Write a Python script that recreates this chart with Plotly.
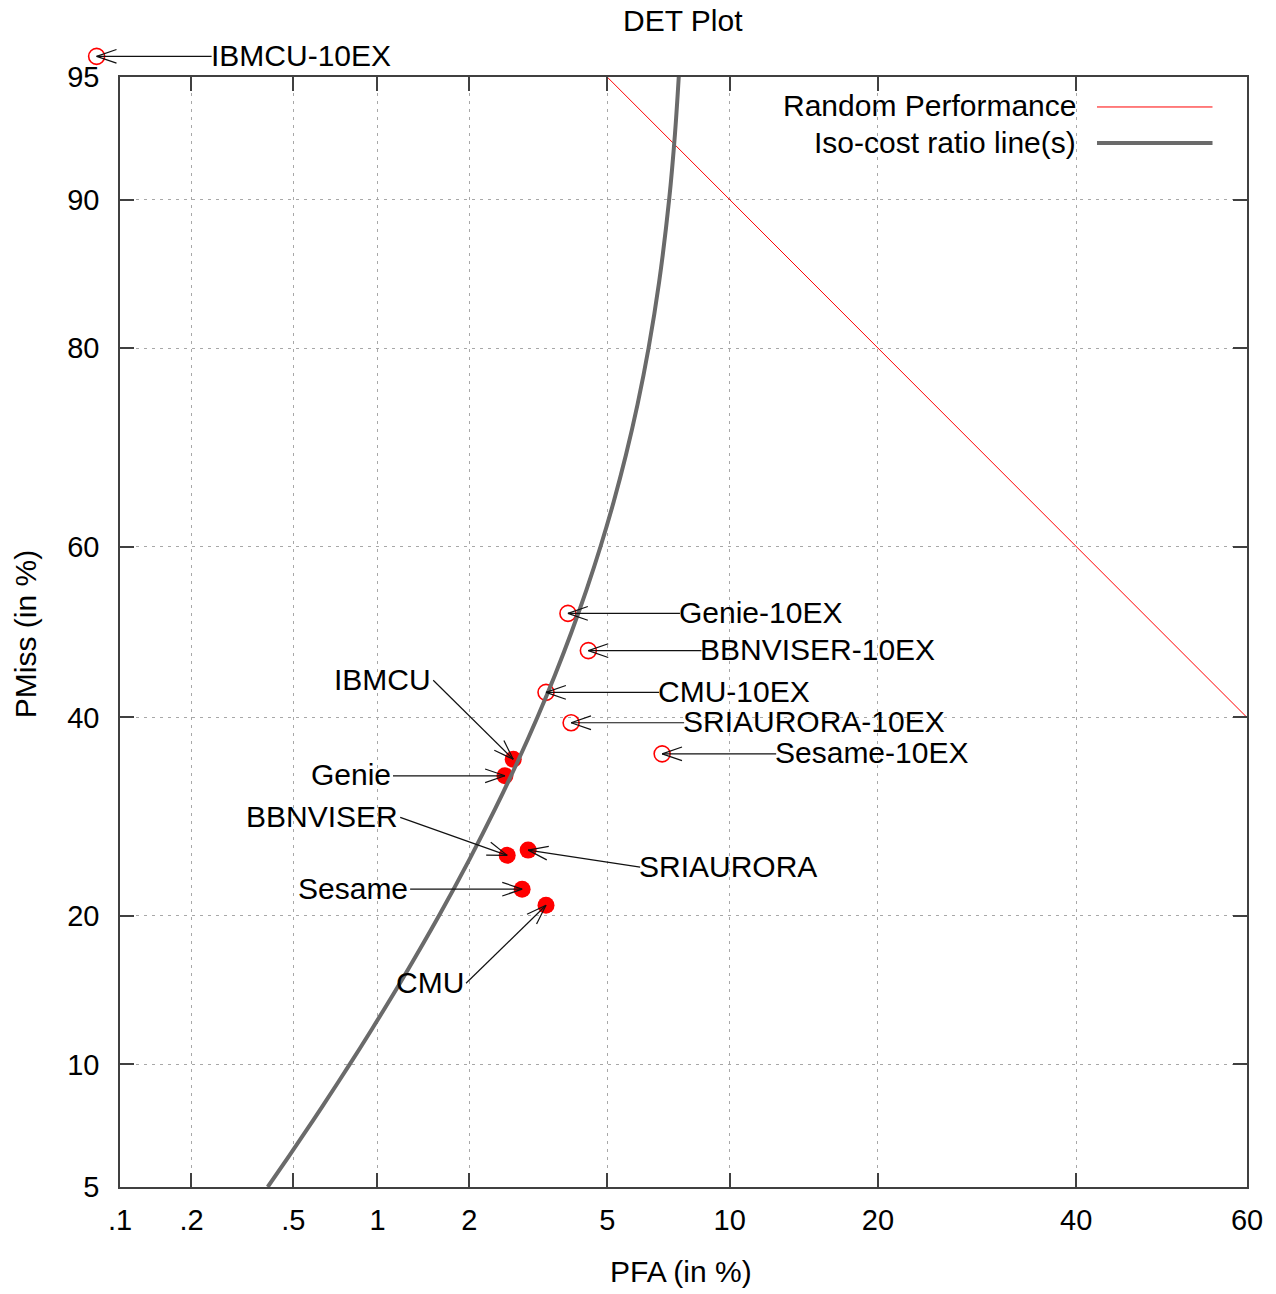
import math
from statistics import NormalDist
import plotly.graph_objects as go

# ---------------- data (values in %) ----------------
systems_full = ["IBMCU", "Genie", "BBNVISER", "SRIAURORA", "Sesame", "CMU"]
pfa_full = [2.72, 2.57, 2.61, 3.01, 2.89, 3.39]
pmiss_full = [35.3, 33.5, 25.4, 25.9, 22.3, 20.9]

systems_10ex = ["IBMCU-10EX", "Genie-10EX", "BBNVISER-10EX", "CMU-10EX",
                "SRIAURORA-10EX", "Sesame-10EX"]
pfa_10ex = [0.079, 3.91, 4.45, 3.39, 3.99, 6.92]
pmiss_10ex = [95.6, 52.2, 47.8, 42.9, 39.4, 35.9]

random_pfa = [5, 10, 20, 40, 60]
random_pmiss = [95, 90, 80, 60, 40]

iso_pfa = [0.40, 0.48, 0.56, 0.64, 0.80, 0.96, 1.2, 1.6, 2.0, 2.4, 2.8, 3.2,
           3.6, 4.0, 4.4, 4.8, 5.2, 5.6, 6.0, 6.4, 6.8, 7.2, 7.44, 7.6]
iso_pmiss = [5, 6, 7, 8, 10, 12, 15, 20, 25, 30, 35, 40,
             45, 50, 55, 60, 65, 70, 75, 80, 85, 90, 93, 95]

x_tick_vals = [0.1, 0.2, 0.5, 1, 2, 5, 10, 20, 40, 60]
x_tick_text = [".1", ".2", ".5", "1", "2", "5", "10", "20", "40", "60"]
y_tick_vals = [5, 10, 20, 40, 60, 80, 90, 95]
y_tick_text = ["5", "10", "20", "40", "60", "80", "90", "95"]

# ---------------- probit (normal deviate) scale ----------------
_N = NormalDist()


def probit(pct):
    return _N.inv_cdf(pct / 100.0)


X_RANGE = [probit(0.1), probit(60)]
Y_RANGE = [probit(5), probit(95)]


def to_paper(pfa, pmiss):
    px = (probit(pfa) - X_RANGE[0]) / (X_RANGE[1] - X_RANGE[0])
    py = (probit(pmiss) - Y_RANGE[0]) / (Y_RANGE[1] - Y_RANGE[0])
    return px, py


def in_range(pfa, pmiss):
    px, py = to_paper(pfa, pmiss)
    return 0 <= px <= 1 and 0 <= py <= 1


FONT = "Liberation Sans, Arial, sans-serif"
RED = "#ff0000"
OPEN_SIZE = 16
FILLED_SIZE = 17

fig = go.Figure()

inside_10ex = [i for i in range(len(systems_10ex)) if in_range(pfa_10ex[i], pmiss_10ex[i])]
outside_10ex = [i for i in range(len(systems_10ex)) if i not in inside_10ex]

fig.add_trace(go.Scatter(
    x=[probit(pfa_10ex[i]) for i in inside_10ex],
    y=[probit(pmiss_10ex[i]) for i in inside_10ex],
    mode="markers", cliponaxis=False, showlegend=False, hoverinfo="text",
    text=[systems_10ex[i] for i in inside_10ex],
    marker=dict(symbol="circle-open", size=OPEN_SIZE, color=RED,
                line=dict(width=1.6, color=RED))))

fig.add_trace(go.Scatter(
    x=[probit(v) for v in pfa_full], y=[probit(v) for v in pmiss_full],
    mode="markers", cliponaxis=False, showlegend=False, hoverinfo="text",
    text=systems_full,
    marker=dict(symbol="circle", size=FILLED_SIZE, color=RED, line=dict(width=0))))

fig.add_trace(go.Scatter(
    x=[probit(v) for v in random_pfa], y=[probit(v) for v in random_pmiss],
    mode="lines", name="Random Performance", showlegend=False,
    line=dict(color=RED, width=1)))

fig.add_trace(go.Scatter(
    x=[probit(v) for v in iso_pfa], y=[probit(v) for v in iso_pmiss],
    mode="lines", name="Iso-cost ratio line(s)", showlegend=False,
    line=dict(color="#6a6a6a", width=4, shape="spline", smoothing=1.0)))

shapes = []
annotations = []

# markers that fall outside the axis range (Plotly hides those in traces)
for i in outside_10ex:
    cx, cy = to_paper(pfa_10ex[i], pmiss_10ex[i])
    r = OPEN_SIZE / 2
    shapes.append(dict(type="circle", xref="paper", yref="paper",
                       xsizemode="pixel", ysizemode="pixel", xanchor=cx, yanchor=cy,
                       x0=-r, x1=r, y0=-r, y1=r,
                       line=dict(color=RED, width=1.6), layer="above"))

# ---------------- labels with arrows (offsets in screen px) ----------------
label_style = {
    "IBMCU-10EX": (115, 0, "left"),
    "Genie-10EX": (112, 0, "left"),
    "BBNVISER-10EX": (113, 0, "left"),
    "CMU-10EX": (113, 0, "left"),
    "SRIAURORA-10EX": (113, 0, "left"),
    "Sesame-10EX": (114, 0, "left"),
    "IBMCU": (-80, -79, "right"),
    "Genie": (-112, 0, "right"),
    "BBNVISER": (-107, -38, "right"),
    "SRIAURORA": (112, 17, "left"),
    "Sesame": (-112, 0, "right"),
    "CMU": (-80, 78, "right"),
}

HEAD_LEN = 21
HEAD_ANG = math.radians(19)
ARROW_COLOR = "#111111"

all_points = list(zip(systems_10ex, pfa_10ex, pmiss_10ex)) + \
    list(zip(systems_full, pfa_full, pmiss_full))
for name, fa, ms in all_points:
    dx, dy, anchor = label_style[name]
    ax_, ay_ = to_paper(fa, ms)
    # shaft
    shapes.append(dict(type="line", xref="paper", yref="paper",
                       xsizemode="pixel", ysizemode="pixel",
                       xanchor=ax_, yanchor=ay_, x0=0, y0=0, x1=dx, y1=-dy,
                       line=dict(color=ARROW_COLOR, width=1.2), layer="above"))
    # open "V" head
    L = math.hypot(dx, dy)
    ux, uy = dx / L, dy / L
    for s in (1, -1):
        c, sn = math.cos(s * HEAD_ANG), math.sin(s * HEAD_ANG)
        bx = (ux * c - uy * sn) * HEAD_LEN
        by = (ux * sn + uy * c) * HEAD_LEN
        shapes.append(dict(type="line", xref="paper", yref="paper",
                           xsizemode="pixel", ysizemode="pixel",
                           xanchor=ax_, yanchor=ay_, x0=0, y0=0, x1=bx, y1=-by,
                           line=dict(color=ARROW_COLOR, width=1.2), layer="above"))
    annotations.append(dict(text=name, xref="paper", yref="paper", x=ax_, y=ay_,
                            xshift=dx + (-2 if anchor == "left" else -1), yshift=-dy + 1,
                            xanchor=anchor, yanchor="middle", showarrow=False,
                            borderpad=0, font=dict(family=FONT, size=30, color="black")))

# ---------------- manual legend (text left, sample right) ----------------
legend_items = [("Random Performance", RED, 1, 0.9739, 0.9730),
                ("Iso-cost ratio line(s)", "#6a6a6a", 4, 0.9414, 0.9405)]
for txt, col, w, ty, ly in legend_items:
    annotations.append(dict(text=txt, xref="paper", yref="paper", x=0.8492, y=ty,
                            xanchor="right", yanchor="middle", showarrow=False,
                            borderpad=0, font=dict(family=FONT, size=30, color="black")))
    shapes.append(dict(type="line", xref="paper", yref="paper",
                       x0=0.8669, x1=0.9694, y0=ly, y1=ly,
                       line=dict(color=col, width=w), layer="above"))

# ---------------- titles ----------------
annotations.append(dict(text="DET Plot", xref="paper", yref="paper", x=0.4996, y=1.0505,
                        xanchor="center", yanchor="middle", showarrow=False,
                        font=dict(family=FONT, size=30, color="black")))
annotations.append(dict(text="PFA (in %)", xref="paper", yref="paper", x=0.4978, y=-0.0757,
                        xanchor="center", yanchor="middle", showarrow=False,
                        font=dict(family=FONT, size=30, color="black")))
annotations.append(dict(text="PMiss (in %)", xref="paper", yref="paper", x=-0.0843, y=0.498,
                        xanchor="center", yanchor="middle", showarrow=False, textangle=-90,
                        font=dict(family=FONT, size=30, color="black")))

axis_common = dict(showline=True, linecolor="#404040", linewidth=1.5, mirror="ticks",
                   ticks="inside", ticklen=14, tickwidth=1.5, tickcolor="#404040",
                   showgrid=True, gridcolor="#a8a8a8", gridwidth=1, griddash="3px,5px",
                   zeroline=False, tickfont=dict(family=FONT, size=29, color="black"))

fig.update_layout(
    width=1276, height=1294, autosize=False,
    margin=dict(l=120, r=29, t=77, b=107, pad=0),
    paper_bgcolor="white", plot_bgcolor="white",
    xaxis=dict(range=X_RANGE, tickmode="array",
               tickvals=[probit(v) for v in x_tick_vals], ticktext=x_tick_text,
               ticklabelstandoff=6, **axis_common),
    yaxis=dict(range=Y_RANGE, tickmode="array",
               tickvals=[probit(v) for v in y_tick_vals], ticktext=y_tick_text,
               ticklabelstandoff=13, **axis_common),
    shapes=shapes, annotations=annotations, showlegend=False,
    font=dict(family=FONT, color="black"),
)

fig.write_html("out.html")
